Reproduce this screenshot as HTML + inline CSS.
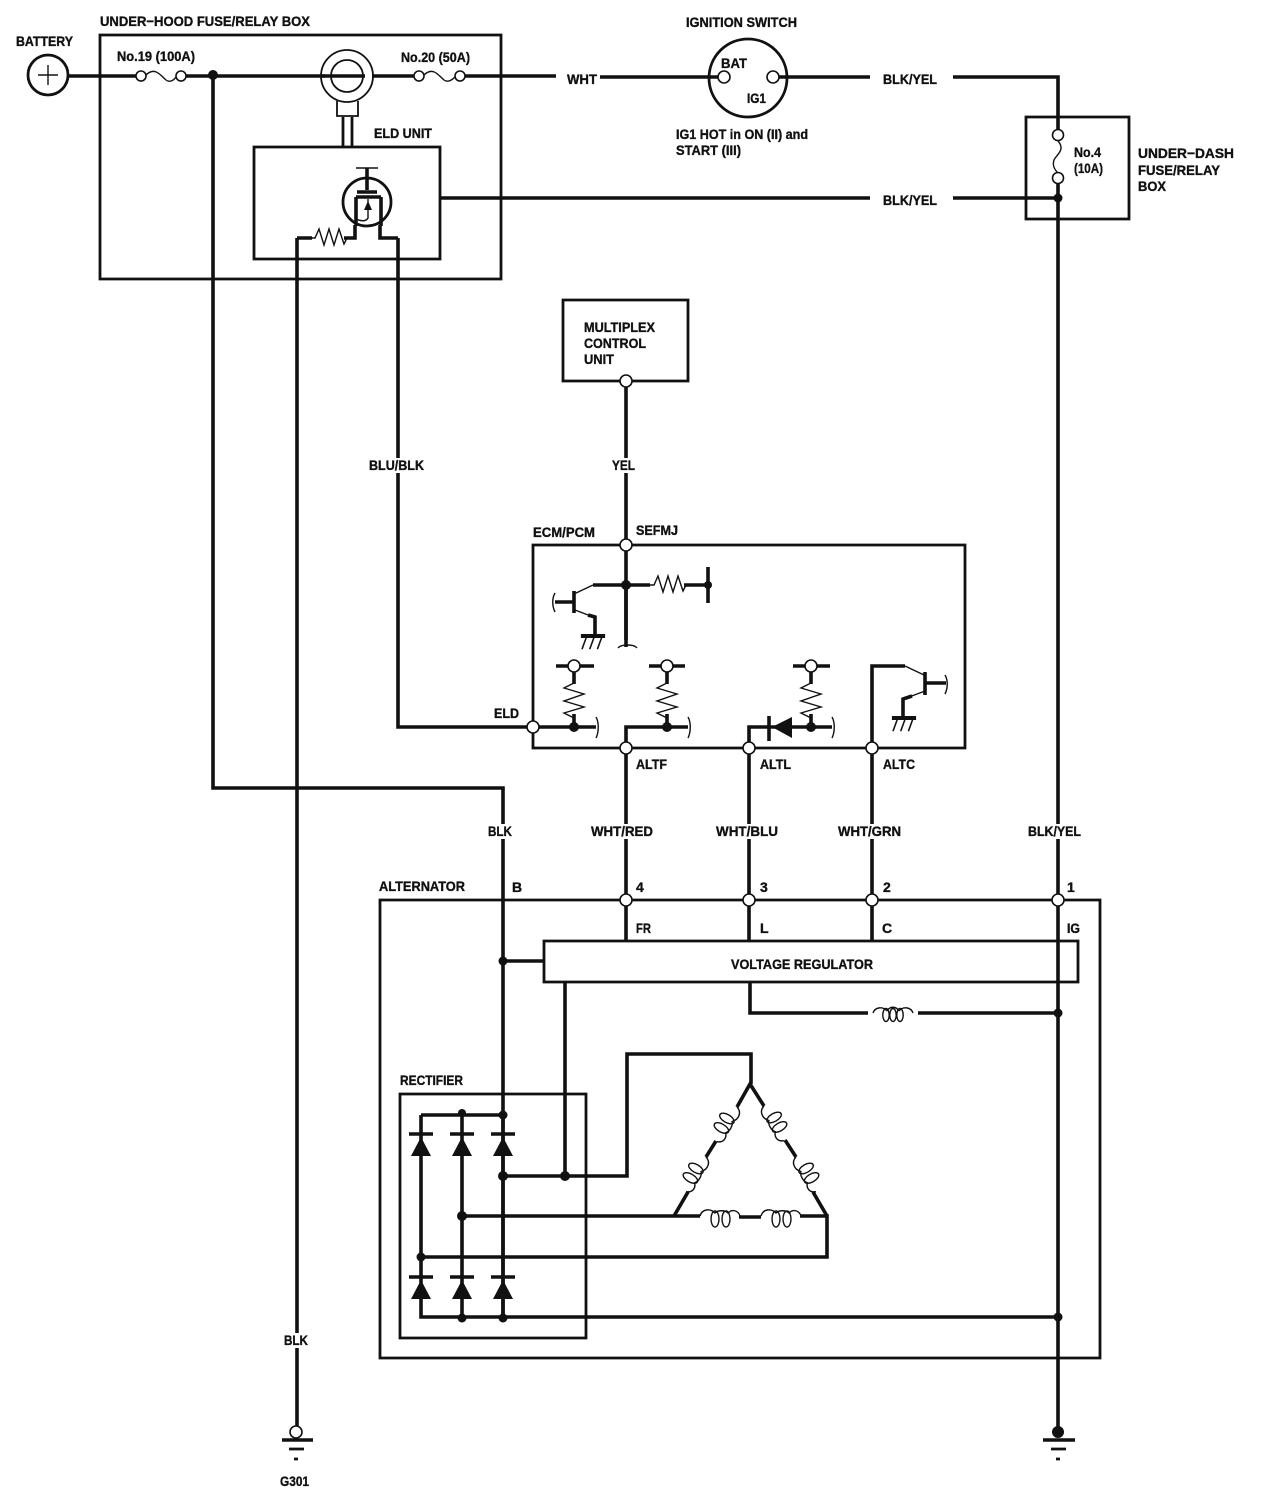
<!DOCTYPE html>
<html><head><meta charset="utf-8">
<style>
html,body{margin:0;padding:0;background:#fff}
svg{display:block}
text{font-family:"Liberation Sans",sans-serif;font-weight:bold;font-size:14px;fill:#111;stroke:#111;stroke-width:.35}
.w{fill:none;stroke:#111;stroke-width:3.6;stroke-linejoin:miter}
.b{fill:none;stroke:#111;stroke-width:2.8}
.t{fill:none;stroke:#111;stroke-width:1.4}
.o{fill:#fff;stroke:#111;stroke-width:1.6}
.j{fill:#111;stroke:none}
.bg{fill:#fff;stroke:none}
</style></head><body>
<svg xmlns="http://www.w3.org/2000/svg" width="1264" height="1508" viewBox="0 0 1264 1508">
<defs>
<g id="coil"><path class="t" d="M0 0C2-6 10-7 14-2M14-2C17-7 23-7 26-2M26-2C30-7 38-6 40 0"/><ellipse class="t" cx="13" cy="2" rx="3.2" ry="6.5"/><ellipse class="t" cx="20" cy="2" rx="3.2" ry="6.5"/><ellipse class="t" cx="27" cy="2" rx="3.2" ry="6.5"/></g>
<g id="coil2"><path class="t" d="M0 0C2-7 10-8 15-3C18-6 25-6 28-3C32-7 38-6 40 0"/><ellipse class="t" cx="15" cy="3" rx="4" ry="8"/><ellipse class="t" cx="26" cy="3" rx="4" ry="8"/></g>
<path id="rh" class="t" d="M0 0L4 0L8-9L13 7L18-9L23 7L28-9L33 6L36 0"/>
<path id="rv" class="t" d="M0 0L0 3L-10 8L10 14L-10 21L10 27L-10 33L0 38"/>
<g id="diode"><path class="j" d="M0 3L-10 22L10 22Z"/><path d="M-12 0H12" class="w"/></g>
<g id="gnd"><path class="w" d="M-11 0H11"/><path class="t" d="M-6 1L-10 12M1 1L-3 12M8 1L4 12"/></g>
</defs>

<!-- boxes -->
<path class="b" d="M100 35H501V279H100Z"/>
<path class="b" d="M254 147H440V259H254Z"/>
<path class="b" d="M1026 117H1129V219H1026Z"/>
<path class="b" d="M563 300H688V381H563Z"/>
<path class="b" d="M533 545H965V748H533Z"/>
<path class="b" d="M380 900H1100V1358H380Z"/>
<path class="b" d="M544 941H1078V982H544Z"/>
<path class="b" d="M400 1094H586V1338H400Z"/>

<!-- top wires -->
<path class="w" d="M68 76H136M186 76H325M372 76H414M465 76H556"/>
<path class="w" d="M600 77H718M778 77H870M953 77H1058V135"/>
<path class="w" d="M213 75V788H503V1317"/>
<path class="w" d="M440 198H870M953 198H1058"/>
<path class="w" d="M1058 178V1437"/>
<path class="w" d="M297 238V1427"/>
<path class="w" d="M398 238V727H527"/>
<path class="w" d="M297 238H312M344 238H355V225M380 225V238H398"/>
<use href="#rh" x="311" y="238"/>

<!-- battery -->
<circle cx="48" cy="75" r="20" class="b" fill="#fff"/>
<path class="t" d="M38 75H58M48 65V85"/>
<!-- fuses -->
<circle class="o" cx="141" cy="76" r="5"/><circle class="o" cx="181" cy="76" r="5"/>
<path class="t" d="M146 75C155 66 161 76 166 80C170 83 174 80 176 77"/>
<circle class="o" cx="419" cy="76" r="5"/><circle class="o" cx="460" cy="76" r="5"/>
<path class="t" d="M424 75C433 66 439 76 444 80C448 83 452 80 455 77"/>
<circle class="j" cx="213" cy="75" r="5"/>
<!-- ring sensor -->
<circle class="t" cx="347" cy="76" r="26" style="stroke-width:1.8"/>
<circle class="t" cx="347" cy="76" r="16" style="stroke-width:1.8"/>
<path class="w" d="M321 76H365"/>
<path class="t" d="M337 101V116H358V101" style="stroke-width:1.8"/>
<path class="b" d="M343 117V147M352 117V147"/>
<!-- mosfet -->
<circle class="b" cx="367" cy="202" r="24"/>
<path class="w" d="M367 168V190M357 192H377"/>
<path class="t" d="M356 168H378"/>
<path class="w" d="M356 197H381"/>
<path class="w" d="M356 197V226M381 197V226"/>
<path class="t" d="M368 199V218C366 222 360 221 356 219"/>
<path class="j" d="M368 201L364 210H372Z"/>

<!-- ignition -->
<circle class="b" cx="748" cy="78" r="39"/>
<circle class="o" cx="724" cy="77" r="6"/><circle class="o" cx="773" cy="77" r="6"/>
<!-- under dash fuse -->
<circle class="o" cx="1058" cy="135" r="5.5"/><circle class="o" cx="1058" cy="178" r="5.5"/>
<path class="t" d="M1058 141C1066 150 1056 155 1054 160C1052 166 1055 170 1058 173"/>
<circle class="j" cx="1058" cy="198" r="4.5"/>

<!-- multiplex wire -->
<path class="w" d="M626 387V640"/>
<circle class="o" cx="626" cy="381" r="6"/>
<circle class="o" cx="626" cy="545" r="6"/>
<!-- ECM top -->
<circle class="j" cx="626" cy="585" r="5"/>
<path class="w" d="M593 585H650M684 585H708M708 567V603"/>
<use href="#rh" x="650" y="585"/>
<path class="t" d="M618 648C621 644 634 644 637 648"/>
<path class="w" d="M626 585V647"/>
<circle class="j" cx="708" cy="585" r="4"/>
<path class="t" d="M593 585L574 594"/>
<path class="w" d="M574 591V613M555 602H574"/>
<path class="t" d="M555 593C552 598 552 606 555 612"/>
<path class="t" d="M575 610L588 615"/>
<path class="w" d="M588 615L595 617V636"/>
<use href="#gnd" transform="translate(593 636) scale(1.1)"/>
<!-- pullups -->
<path class="w" d="M556 666H594M649 666H685M793 666H830"/>
<circle class="o" cx="574" cy="666" r="6"/><circle class="o" cx="667" cy="666" r="6"/><circle class="o" cx="811" cy="666" r="6"/>
<path class="w" d="M574 672V684M667 672V684M811 672V684M574 714V727M667 714V727M811 714V727"/>
<use href="#rv" x="574" y="680"/><use href="#rv" x="667" y="680"/><use href="#rv" x="811" y="680"/>
<path class="w" d="M539 727H596M626 748V727H688M749 748V727H832"/>
<circle class="j" cx="574" cy="727" r="5"/><circle class="j" cx="667" cy="727" r="5"/><circle class="j" cx="811" cy="727" r="5"/>
<path class="w" d="M769 716V741"/><path class="j" d="M772 727L792 717V738Z"/>
<path class="t" d="M596 717C599 722 599 732 596 738M688 717C691 722 691 732 688 738M832 717C835 722 835 732 832 738"/>
<circle class="o" cx="533" cy="727" r="6"/>
<!-- ALTC transistor -->
<path class="w" d="M872 742V666H905"/>
<path class="t" d="M905 666L924 675"/>
<path class="w" d="M925 672V695M925 683H946"/>
<path class="t" d="M945 675C948 680 948 688 945 694"/>
<path class="t" d="M925 691L909 697"/>
<path class="w" d="M912 696L903 699V717"/>
<use href="#gnd" transform="translate(904 718) scale(1.1)"/>

<!-- vertical to alternator -->
<path class="w" d="M626 754V941M749 754V941M872 754V941"/>
<circle class="o" cx="626" cy="748" r="6"/><circle class="o" cx="749" cy="748" r="6"/><circle class="o" cx="872" cy="748" r="6"/>
<circle class="o" cx="626" cy="900" r="6"/><circle class="o" cx="749" cy="900" r="6"/><circle class="o" cx="872" cy="900" r="6"/><circle class="o" cx="1058" cy="900" r="6"/>

<!-- alternator internals -->
<circle class="j" cx="503" cy="961" r="4.5"/>
<path class="w" d="M503 961H544"/>
<path class="w" d="M565 982V1176"/>
<path class="w" d="M750 982V1013H868M918 1013H1058"/>
<use href="#coil" x="873" y="1013"/>
<circle class="j" cx="1058" cy="1013" r="4.5"/>

<!-- rectifier -->
<path class="w" d="M421 1115H503M421 1115V1317H1058M462 1115V1317M503 1115V1317"/>
<use href="#diode" x="421" y="1134"/><use href="#diode" x="462" y="1134"/><use href="#diode" x="503" y="1134"/>
<use href="#diode" x="421" y="1277"/><use href="#diode" x="462" y="1277"/><use href="#diode" x="503" y="1277"/>
<circle class="j" cx="462" cy="1113" r="4"/><circle class="j" cx="503" cy="1115" r="4.5"/>
<circle class="j" cx="503" cy="1176" r="5"/><circle class="j" cx="565" cy="1176" r="5"/>
<circle class="j" cx="462" cy="1216" r="5"/><circle class="j" cx="421" cy="1257" r="4.5"/>
<circle class="j" cx="462" cy="1318" r="4.5"/><circle class="j" cx="503" cy="1318" r="4.5"/>
<circle class="j" cx="1058" cy="1317" r="4.5"/>
<path class="w" d="M503 1176H627V1054H751V1084"/>
<path class="w" d="M462 1216H700M739 1217H761M800 1216H827V1257H421"/>
<!-- delta -->
<path class="w" d="M737 1107L750 1084L764 1106"/>
<path class="w" d="M716 1141L706 1157M688 1192L674 1216"/>
<path class="w" d="M785 1140L796 1157M813 1192L827 1216"/>
<use href="#coil2" transform="translate(700 1216)"/>
<use href="#coil2" transform="translate(761 1216)"/>
<use href="#coil2" transform="translate(737 1107) rotate(120)"/>
<use href="#coil2" transform="translate(706 1157) rotate(120)"/>
<use href="#coil2" transform="translate(764 1106) rotate(60) scale(1 -1)"/>
<use href="#coil2" transform="translate(796 1157) rotate(60) scale(1 -1)"/>

<!-- grounds -->
<circle class="o" cx="296" cy="1432" r="6"/>
<path class="w" d="M282 1440H313"/><path class="b" d="M289 1449H304M294 1459H298"/>
<circle class="j" cx="1058" cy="1432" r="6"/>
<path class="w" d="M1043 1440H1075"/><path class="b" d="M1051 1449H1066M1056 1459H1060"/>

<!-- label backgrounds over wires -->
<rect class="bg" x="369" y="458" width="55" height="15"/>
<rect class="bg" x="612" y="458" width="24" height="15"/>
<rect class="bg" x="488" y="824" width="25" height="15"/>
<rect class="bg" x="591" y="824" width="62" height="15"/>
<rect class="bg" x="716" y="824" width="62" height="15"/>
<rect class="bg" x="838" y="824" width="63" height="15"/>
<rect class="bg" x="1028" y="824" width="53" height="15"/>
<rect class="bg" x="284" y="1333" width="25" height="15"/>

<!-- labels -->
<text x="100" y="26" textLength="210" lengthAdjust="spacingAndGlyphs">UNDER−HOOD FUSE/RELAY BOX</text>
<text x="16" y="46" textLength="57" lengthAdjust="spacingAndGlyphs">BATTERY</text>
<text x="117" y="61" textLength="78" lengthAdjust="spacingAndGlyphs">No.19 (100A)</text>
<text x="401" y="62" textLength="69" lengthAdjust="spacingAndGlyphs">No.20 (50A)</text>
<text x="374" y="138" textLength="58" lengthAdjust="spacingAndGlyphs">ELD UNIT</text>
<text x="686" y="27" textLength="111" lengthAdjust="spacingAndGlyphs">IGNITION SWITCH</text>
<text x="721" y="68" textLength="26" lengthAdjust="spacingAndGlyphs">BAT</text>
<text x="747" y="103" textLength="19" lengthAdjust="spacingAndGlyphs">IG1</text>
<text x="676" y="139" textLength="132" lengthAdjust="spacingAndGlyphs">IG1 HOT in ON (II) and</text>
<text x="676" y="155" textLength="65" lengthAdjust="spacingAndGlyphs">START (III)</text>
<text x="567" y="84" textLength="30" lengthAdjust="spacingAndGlyphs">WHT</text>
<text x="883" y="84" textLength="54" lengthAdjust="spacingAndGlyphs">BLK/YEL</text>
<text x="883" y="205" textLength="54" lengthAdjust="spacingAndGlyphs">BLK/YEL</text>
<text x="1074" y="157" textLength="27" lengthAdjust="spacingAndGlyphs">No.4</text>
<text x="1074" y="173" textLength="29" lengthAdjust="spacingAndGlyphs">(10A)</text>
<text x="1138" y="158" textLength="96" lengthAdjust="spacingAndGlyphs">UNDER−DASH</text>
<text x="1138" y="175" textLength="82" lengthAdjust="spacingAndGlyphs">FUSE/RELAY</text>
<text x="1138" y="191" textLength="28" lengthAdjust="spacingAndGlyphs">BOX</text>
<text x="584" y="332" textLength="71" lengthAdjust="spacingAndGlyphs">MULTIPLEX</text>
<text x="584" y="348" textLength="62" lengthAdjust="spacingAndGlyphs">CONTROL</text>
<text x="584" y="364" textLength="30" lengthAdjust="spacingAndGlyphs">UNIT</text>
<text x="369" y="470" textLength="55" lengthAdjust="spacingAndGlyphs">BLU/BLK</text>
<text x="612" y="470" textLength="23" lengthAdjust="spacingAndGlyphs">YEL</text>
<text x="533" y="537" textLength="62" lengthAdjust="spacingAndGlyphs">ECM/PCM</text>
<text x="636" y="535" textLength="42" lengthAdjust="spacingAndGlyphs">SEFMJ</text>
<text x="494" y="718" textLength="25" lengthAdjust="spacingAndGlyphs">ELD</text>
<text x="636" y="769" textLength="31" lengthAdjust="spacingAndGlyphs">ALTF</text>
<text x="760" y="769" textLength="31" lengthAdjust="spacingAndGlyphs">ALTL</text>
<text x="883" y="769" textLength="32" lengthAdjust="spacingAndGlyphs">ALTC</text>
<text x="488" y="836" textLength="24" lengthAdjust="spacingAndGlyphs">BLK</text>
<text x="591" y="836" textLength="62" lengthAdjust="spacingAndGlyphs">WHT/RED</text>
<text x="716" y="836" textLength="62" lengthAdjust="spacingAndGlyphs">WHT/BLU</text>
<text x="838" y="836" textLength="63" lengthAdjust="spacingAndGlyphs">WHT/GRN</text>
<text x="1028" y="836" textLength="53" lengthAdjust="spacingAndGlyphs">BLK/YEL</text>
<text x="379" y="891" textLength="86" lengthAdjust="spacingAndGlyphs">ALTERNATOR</text>
<text x="512" y="892">B</text>
<text x="636" y="892">4</text>
<text x="760" y="892">3</text>
<text x="883" y="892">2</text>
<text x="1067" y="892">1</text>
<text x="636" y="933" textLength="15" lengthAdjust="spacingAndGlyphs">FR</text>
<text x="760" y="933">L</text>
<text x="882" y="933">C</text>
<text x="1067" y="933" textLength="13" lengthAdjust="spacingAndGlyphs">IG</text>
<text x="731" y="969" textLength="142" lengthAdjust="spacingAndGlyphs">VOLTAGE REGULATOR</text>
<text x="400" y="1085" textLength="63" lengthAdjust="spacingAndGlyphs">RECTIFIER</text>
<text x="284" y="1345" textLength="24" lengthAdjust="spacingAndGlyphs">BLK</text>
<text x="280" y="1486" textLength="29" lengthAdjust="spacingAndGlyphs">G301</text>
</svg>
</body></html>
